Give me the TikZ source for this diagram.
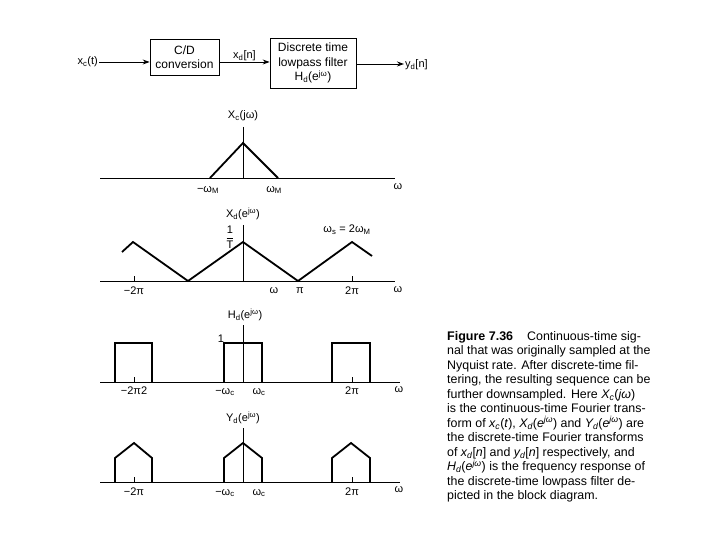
\documentclass[tikz,border=0pt]{standalone}
\usepackage{amsmath}
\usepackage{fontspec}
\setmainfont{Liberation Sans}
\usetikzlibrary{arrows.meta}

\begin{document}
\begin{tikzpicture}[x=1pt,y=-1pt,
  blk/.style={draw,line width=0.7pt,align=center,inner sep=1pt,font=\fontsize{12}{14.5}\selectfont},
  axis/.style={line width=0.7pt},
  curve/.style={line width=1.8pt},
  lbl/.style={inner sep=1pt,font=\fontsize{11}{13}\selectfont},
  sig/.style={-{Stealth[length=7pt,width=5pt]},line width=0.9pt}]
\useasboundingbox (0,0) rectangle (720,540);

\node[lbl,anchor=east] (xin) at (99,62) {x\textsubscript{c}(t)};
\node[blk,minimum width=69,minimum height=36] (cd) at (184.5,57) {C/D\\conversion};
\node[blk,minimum width=86,minimum height=50] (lpf) at (313,63) {Discrete time\\lowpass filter\\H\textsubscript{d}(e\textsuperscript{jω})};
\node[lbl,anchor=west] (yout) at (404,65) {y\textsubscript{d}[n]};
\draw[sig] (xin.east |- 0,62)--(cd.west |- 0,62);
\draw[sig] (cd.east |- 0,62)--node[lbl,above]{x\textsubscript{d}[n]} (lpf.west |- 0,62);
\draw[sig] (lpf.east |- 0,64)--(yout.west |- 0,64);

\draw[axis] (100,178)--(395,178);
\draw[axis] (243,127)--(243,178);
\draw[curve] (210,178)--(243,143)--(278,178);
\node[lbl] (xc) at (243,116) {X\textsubscript{c}(jω)};
\node[lbl] (xcm) at (208,190) {−ω\textsubscript{M}};
\node[lbl] (xcp) at (274,190) {ω\textsubscript{M}};
\node[lbl] (xcw) at (398,187) {ω};

\draw[axis] (100,281)--(395,281);
\draw[axis] (243,225)--(243,281);
\draw[axis] (134,276)--(134,281);
\draw[axis] (352,276)--(352,281);
\draw[curve] (122,252)--(133,242)--(188,281)--(243,242)--(298,281)--(352,242)--(372,256);
\node[lbl] (xd) at (243,214) {X\textsubscript{d}(e\textsuperscript{jω})};
\node[lbl,inner sep=0pt] (xdt) at (230,237) {$\dfrac{\text{1}}{\text{T}}$};
\node[lbl] (ws) at (347,230) {ω\textsubscript{s} = 2ω\textsubscript{M}};
\node[lbl] (xda) at (134,291) {−2π};
\node[lbl] (xdb) at (274,291) {ω};
\node[lbl] (xdc) at (300,291) {π};
\node[lbl] (xdd) at (352,291) {2π};
\node[lbl] (xdw) at (398,290) {ω};

\draw[axis] (100,382)--(400,382);
\draw[axis] (243,325)--(243,382);
\draw[axis] (134,377)--(134,382);
\draw[axis] (352,377)--(352,382);
\draw[curve] (115,382)--(115,343)--(152,343)--(152,382);
\draw[curve] (224,382)--(224,343)--(262,343)--(262,382);
\draw[curve] (332,382)--(332,343)--(370,343)--(370,382);
\node[lbl] (hd) at (245,315) {H\textsubscript{d}(e\textsuperscript{jω})};
\node[lbl] (hone) at (221,339) {1};
\node[lbl] (hda) at (134,391) {−2π2};
\node[lbl] (hdb) at (225,392) {−ω\textsubscript{c}};
\node[lbl] (hdc) at (259,392) {ω\textsubscript{c}};
\node[lbl] (hdd) at (352,391) {2π};
\node[lbl] (hdw) at (399,390) {ω};

\draw[axis] (100,482)--(400,482);
\draw[axis] (243,428)--(243,482);
\draw[axis] (134,477)--(134,482);
\draw[axis] (352,477)--(352,482);
\draw[curve] (115,482)--(115,458)--(134,443)--(152,458)--(152,482);
\draw[curve] (224,482)--(224,458)--(243,443)--(262,458)--(262,482);
\draw[curve] (332,482)--(332,458)--(351,443)--(370,458)--(370,482);
\node[lbl] (yd) at (243,418) {Y\textsubscript{d}(e\textsuperscript{jω})};
\node[lbl] (yda) at (134,492) {−2π};
\node[lbl] (ydb) at (225,493) {−ω\textsubscript{c}};
\node[lbl] (ydc) at (259,493) {ω\textsubscript{c}};
\node[lbl] (ydd) at (352,492) {2π};
\node[lbl] (ydw) at (399,490) {ω};

\node[anchor=north west,align=left,inner sep=0pt,font=\fontsize{12.4}{14.5}\selectfont] (cap) at (447,331)
{\textbf{\fontsize{12.5}{14.5}\selectfont Figure 7.36}\hspace{14pt}Continuous-time sig-\\
nal that was originally sampled at the\\
Nyquist rate. After discrete-time fil-\\
tering, the resulting sequence can be\\
further downsampled. Here \textit{X\textsubscript{c}}(\textit{jω})\\
is the continuous-time Fourier trans-\\
form of \textit{x\textsubscript{c}}(\textit{t}), \textit{X\textsubscript{d}}(\textit{e\textsuperscript{jω}}) and \textit{Y\textsubscript{d}}(\textit{e\textsuperscript{jω}}) are\\
the discrete-time Fourier transforms\\
of \textit{x\textsubscript{d}}[\textit{n}] and \textit{y\textsubscript{d}}[\textit{n}] respectively, and\\
\textit{H\textsubscript{d}}(\textit{e\textsuperscript{jω}}) is the frequency response of\\
the discrete-time lowpass filter de-\\
picted in the block diagram.};
\end{tikzpicture}
\end{document}
